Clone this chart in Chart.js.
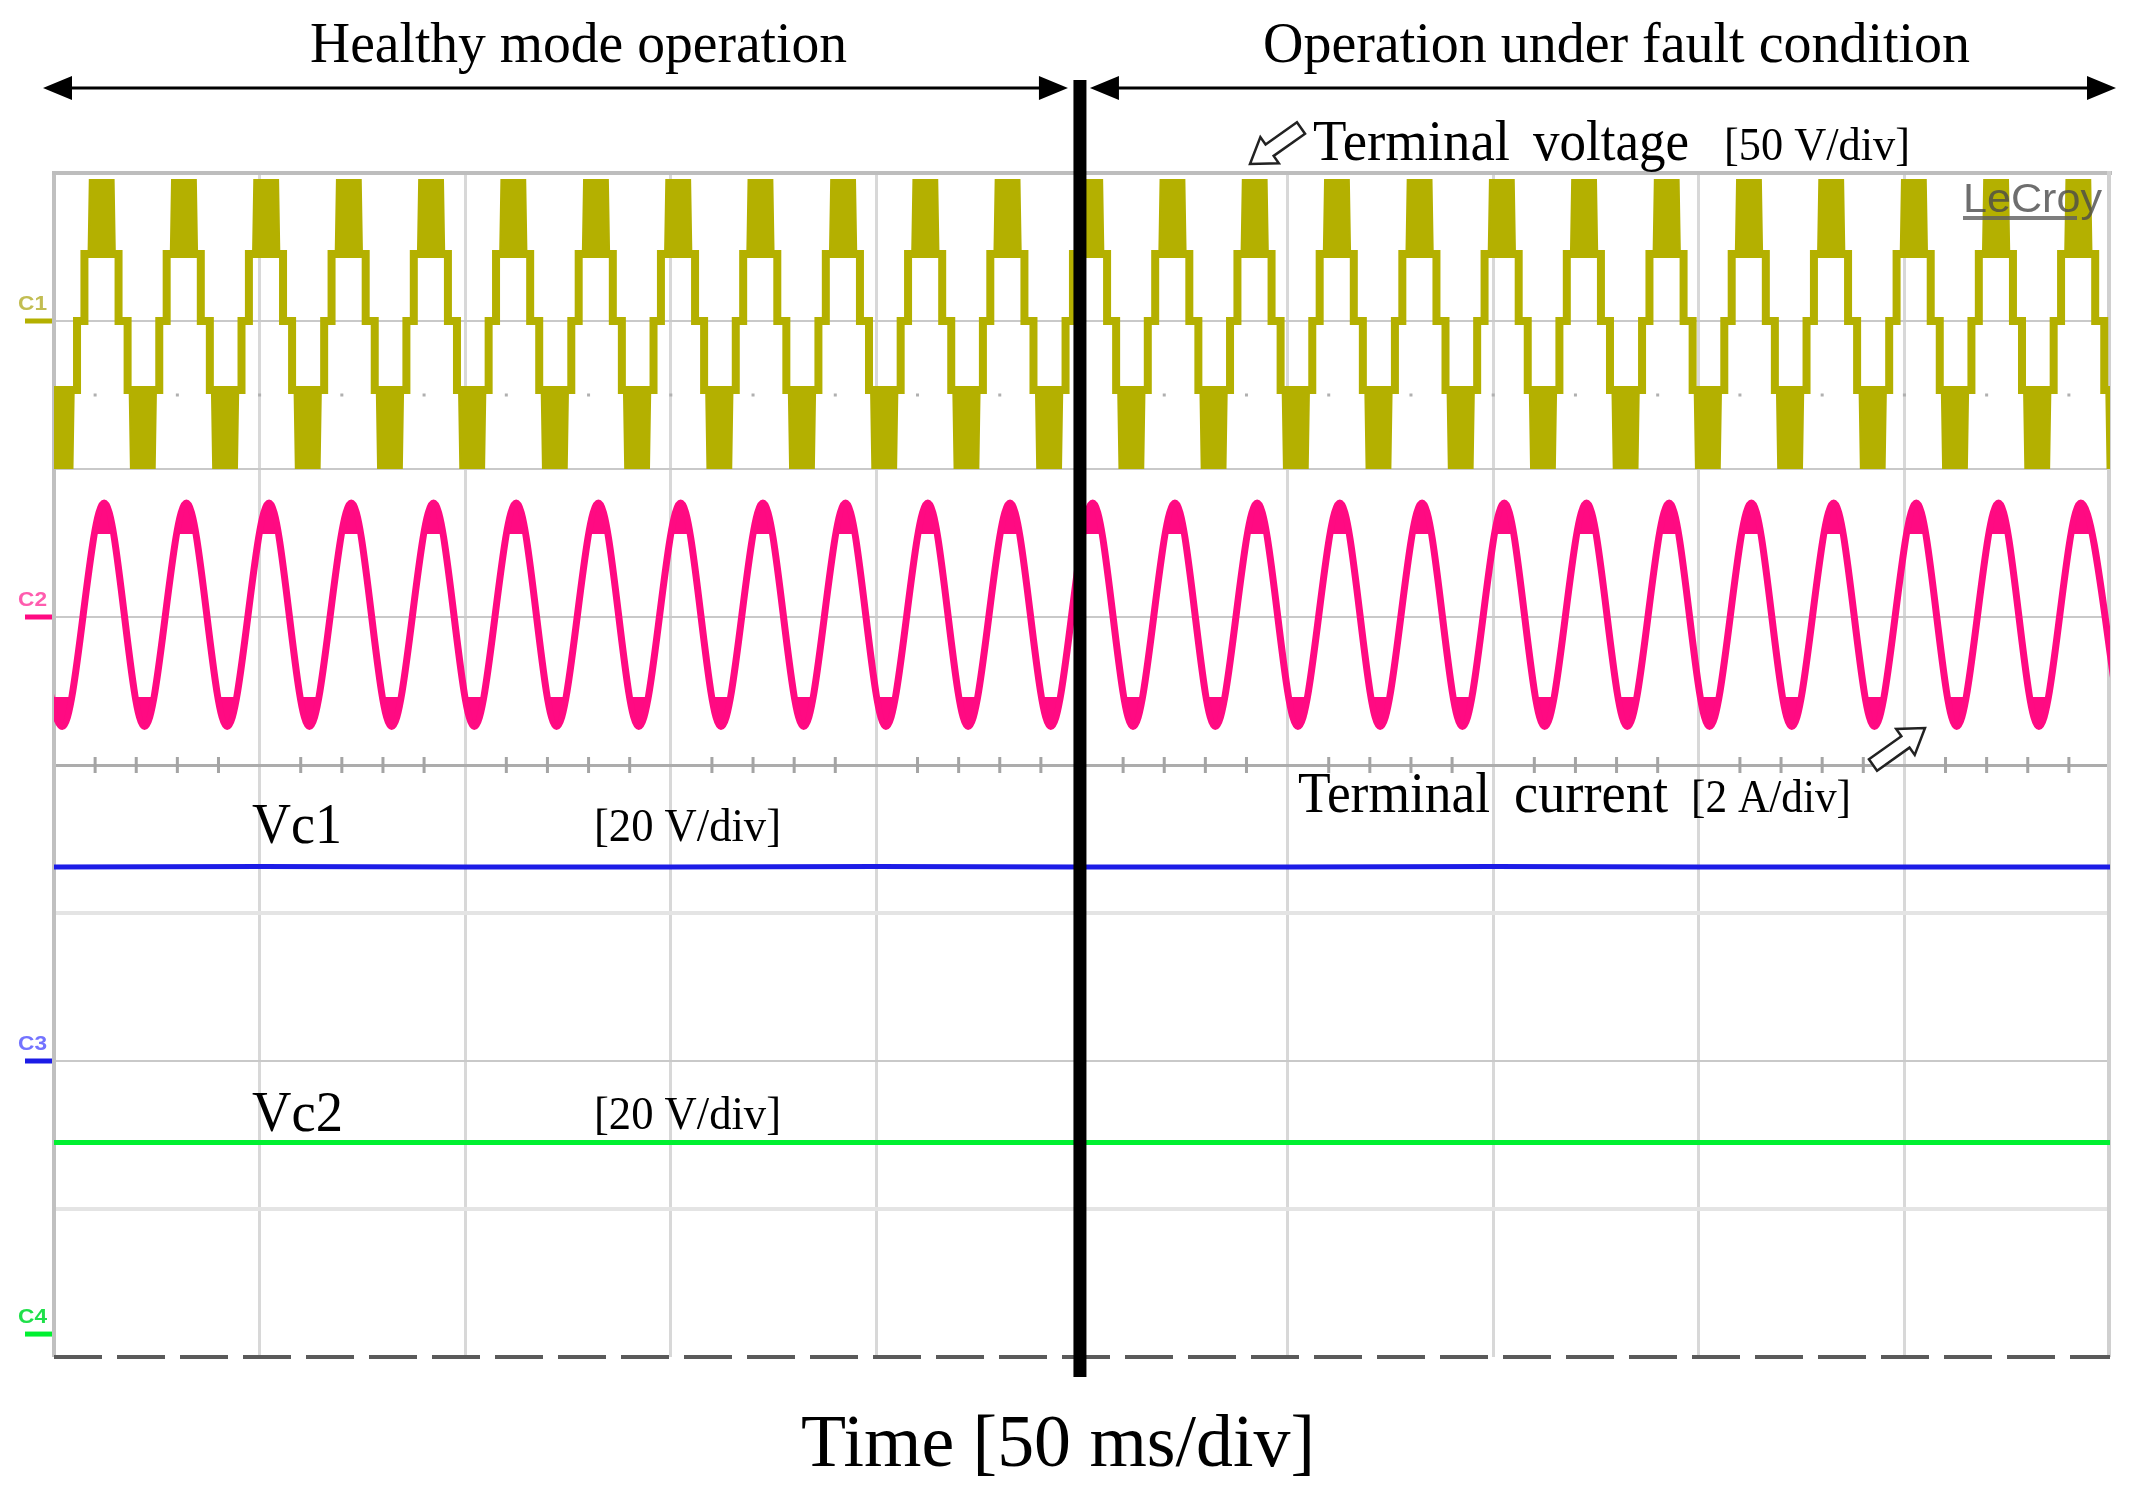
<!DOCTYPE html>
<html>
<head>
<meta charset="utf-8">
<script src="https://cdn.jsdelivr.net/npm/chart.js@4.4.1/dist/chart.umd.min.js"></script>
<style>
  html, body { margin: 0; padding: 0; background: #fff; }
  #wrap { width: 2134px; height: 1491px; }
</style>
</head>
<body>
<div id="wrap"><canvas id="scope" width="2134" height="1491"></canvas></div>
<script>
const timeRange = [0, 500];
const faultTime = 249.5;

// C1 terminal voltage (50 V/div): 5-level staircase with PWM bands
const c1PeakTimes = [11.6, 31.6, 51.6, 71.7, 91.7, 111.7, 131.8, 151.8, 171.8, 191.9, 211.9, 231.9,
  252.0, 272.0, 292.0, 312.0, 332.1, 352.1, 372.1, 392.2, 412.2, 432.2, 452.3, 472.3, 492.3];
const c1TroughTimes = [1.6, 21.6, 41.6, 61.7, 81.7, 101.7, 121.8, 141.8, 161.8, 181.9, 201.9, 221.9,
  242.0, 262.0, 282.0, 302.0, 322.1, 342.1, 362.1, 382.2, 402.2, 422.2, 442.3, 462.3, 482.3, 502.3];
const c1Levels = [-49.7, -23.3, 0, 22.6, 47.6];      // V: bottom, low, zero, high, top
const c1StepOffsets = [-6.0, -4.2, 4.1, 6.3];         // ms from each peak: rise, rise, fall, fall
const c1BandHalfWidths = [2.9, 3.2];                  // ms: outer edge, inner edge of PWM band

// C2 terminal current (2 A/div)
const c2PeakTimes = [-7.8, 12.2, 32.2, 52.3, 72.3, 92.3, 112.4, 132.4, 152.4, 172.4, 192.5, 212.5, 232.5,
  252.6, 272.6, 292.6, 312.7, 332.7, 352.7, 372.7, 392.8, 412.8, 432.8, 452.9, 472.9, 492.9];
const c2TroughTimes = [2.0, 22.0, 42.1, 62.1, 82.1, 102.2, 122.2, 142.2, 162.2, 182.3, 202.3, 222.3,
  242.4, 262.4, 282.4, 302.5, 322.5, 342.5, 362.5, 382.6, 402.6, 422.6, 442.7, 462.7, 482.7, 502.7];
const c2PeakValue = 1.54;     // A
const c2TroughValue = -1.48;  // A
// switching ripple that thickens each crest: offsets (ms) and trace values (A)
const c2RippleOffsets = [-2.4, -1.2, 0, 1.2, 2.4];
const c2PeakRipple = [1.12, 1.43, 1.54, 1.43, 1.12];
const c2TroughRipple = [-1.08, -1.38, -1.48, -1.38, -1.08];

// C3 / C4 capacitor voltages Vc1, Vc2 (20 V/div)
const dcTimes = [0, 50, 100, 150, 200, 250, 300, 350, 400, 450, 500];
const c3Values = [26.2, 26.3, 26.2, 26.2, 26.3, 26.2, 26.2, 26.3, 26.2, 26.2, 26.2];
const c4Values = [25.9, 25.9, 25.9, 25.9, 25.9, 25.9, 25.9, 25.9, 25.9, 25.9, 25.9];

// channel settings: units per division and screen position of the zero (div from centre)
const channels = [
  { id: 'c1', name: 'C1', perDiv: 50, zeroDiv: 3,      color: '#b4b000', label: '#c2bd52' },
  { id: 'c2', name: 'C2', perDiv: 2,  zeroDiv: 1,      color: '#ff0a82', label: '#ff5cae' },
  { id: 'c3', name: 'C3', perDiv: 20, zeroDiv: -2,     color: '#1c1ce6', label: '#7373ff' },
  { id: 'c4', name: 'C4', perDiv: 20, zeroDiv: -3.845, color: '#00f030', label: '#1fe04a' }
];

// ---- build series ----
const [lvBottom, lvLow, lvZero, lvHigh, lvTop] = c1Levels;

const c1Outline = [{ x: -10, y: lvLow }];
c1PeakTimes.forEach(tp => {
  const [r0, r1, f0, f1] = c1StepOffsets;
  c1Outline.push(
    { x: tp + r0, y: lvLow }, { x: tp + r0, y: lvZero },
    { x: tp + r1, y: lvZero }, { x: tp + r1, y: lvHigh },
    { x: tp + f0, y: lvHigh }, { x: tp + f0, y: lvZero },
    { x: tp + f1, y: lvZero }, { x: tp + f1, y: lvLow }
  );
});
c1Outline.push({ x: 510, y: lvLow });

function pwmBands(times, inner, outer) {
  const [hwOut, hwIn] = c1BandHalfWidths;
  const pts = [];
  times.forEach(t => {
    pts.push({ x: t - hwIn, y: inner }, { x: t - hwOut, y: outer },
             { x: t + hwOut, y: outer }, { x: t + hwIn, y: inner }, { x: t, y: null });
  });
  return pts;
}

function rippleBlobs(times, profile) {
  const pts = [];
  times.forEach(t => {
    c2RippleOffsets.forEach((dt, i) => pts.push({ x: t + dt, y: profile[i] }));
    pts.push({ x: t, y: null });
  });
  return pts;
}

const c2Curve = c2PeakTimes.map(t => ({ x: t, y: c2PeakValue }))
  .concat(c2TroughTimes.map(t => ({ x: t, y: c2TroughValue })))
  .sort((a, b) => a.x - b.x);

const c3Line = dcTimes.map((t, i) => ({ x: t, y: c3Values[i] }));
const c4Line = dcTimes.map((t, i) => ({ x: t, y: c4Values[i] }));

// ---- scales ----
const scales = {
  x: {
    type: 'linear', min: timeRange[0], max: timeRange[1],
    ticks: { display: false, stepSize: 50 },
    border: { display: false },
    grid: {
      drawTicks: false, lineWidth: 3,
      color: ctx => (ctx.tick.value === 0 || ctx.tick.value === 500) ? 'rgba(0,0,0,0)' : '#d8d8d8'
    },
    afterFit: s => { s.height = 0; }
  },
  yGrid: {
    type: 'linear', position: 'left', min: -4, max: 4,
    ticks: { display: false, stepSize: 1 },
    border: { display: false },
    grid: {
      drawTicks: false,
      color: ctx => {
        const v = ctx.tick.value;
        if (v === 4 || v === -4) return 'rgba(0,0,0,0)';
        if (v === 0) return '#acacac';
        if (v === -1 || v === -3) return '#e4e4e4';
        return '#c9c9c9';
      },
      lineWidth: ctx => {
        const v = ctx.tick.value;
        if (v === 0) return 3;
        if (v === -1 || v === -3) return 4;
        return 2;
      }
    },
    afterFit: s => { s.width = 0; }
  }
};
channels.forEach(ch => {
  scales[ch.id] = {
    type: 'linear', display: false,
    min: (-4 - ch.zeroDiv) * ch.perDiv,
    max: (4 - ch.zeroDiv) * ch.perDiv
  };
});

// ---- drawing helpers ----
function fitText(ctx, str, x0, x1, baseline, font, color) {
  ctx.save();
  ctx.font = font;
  const w = ctx.measureText(str).width;
  ctx.translate(x0, baseline);
  ctx.scale((x1 - x0) / w, 1);
  ctx.fillStyle = color;
  ctx.textAlign = 'left';
  ctx.textBaseline = 'alphabetic';
  ctx.fillText(str, 0, 0);
  ctx.restore();
}

function doubleArrow(ctx, x0, x1, y) {
  const hl = 29, hw = 12;
  ctx.save();
  ctx.fillStyle = '#000';
  ctx.strokeStyle = '#000';
  ctx.lineWidth = 3;
  ctx.beginPath();
  ctx.moveTo(x0 + hl - 2, y);
  ctx.lineTo(x1 - hl + 2, y);
  ctx.stroke();
  ctx.beginPath();
  ctx.moveTo(x0, y); ctx.lineTo(x0 + hl, y - hw); ctx.lineTo(x0 + hl, y + hw); ctx.closePath();
  ctx.moveTo(x1, y); ctx.lineTo(x1 - hl, y - hw); ctx.lineTo(x1 - hl, y + hw); ctx.closePath();
  ctx.fill();
  ctx.restore();
}

function hollowArrow(ctx, tx, ty, hx, hy) {
  const L = Math.hypot(hx - tx, hy - ty);
  const sw = 7, hw = 16, hl = 24;
  ctx.save();
  ctx.translate(tx, ty);
  ctx.rotate(Math.atan2(hy - ty, hx - tx));
  ctx.beginPath();
  ctx.moveTo(0, -sw); ctx.lineTo(L - hl, -sw); ctx.lineTo(L - hl, -hw);
  ctx.lineTo(L, 0);
  ctx.lineTo(L - hl, hw); ctx.lineTo(L - hl, sw); ctx.lineTo(0, sw);
  ctx.closePath();
  ctx.fillStyle = '#fff';
  ctx.fill();
  ctx.lineWidth = 2.5;
  ctx.strokeStyle = '#222';
  ctx.stroke();
  ctx.restore();
}

const SERIF = '"Liberation Serif", "Times New Roman", serif';
const SANS = '"Liberation Sans", Arial, sans-serif';

const scopeDecor = {
  id: 'scopeDecor',
  beforeDatasetsDraw(chart) {
    const { ctx, chartArea: a, scales: s } = chart;
    ctx.save();
    // dotted reference line
    const yDot = s.yGrid.getPixelForValue(2.5);
    ctx.fillStyle = '#b0b0b0';
    for (let t = 10; t < timeRange[1]; t += 10) {
      ctx.fillRect(s.x.getPixelForValue(t) - 1.5, yDot - 1.5, 3, 3);
    }
    // minor ticks on the centre line
    const yMid = s.yGrid.getPixelForValue(0);
    ctx.fillStyle = '#a4a4a4';
    for (let t = 10; t < timeRange[1]; t += 10) {
      if (t % 50 === 0) continue;
      ctx.fillRect(s.x.getPixelForValue(t) - 1.5, yMid - 8, 3, 16);
    }
    // frame
    ctx.fillStyle = '#c0c0c0';
    ctx.fillRect(a.left - 2, a.top - 2, 4, a.bottom - a.top + 2);
    ctx.fillStyle = '#bdbdbd';
    ctx.fillRect(a.left - 2, a.top - 2, a.right - a.left + 4, 4);
    ctx.fillStyle = '#d0d0d0';
    ctx.fillRect(a.right - 3, a.top - 2, 4, a.bottom - a.top + 2);
    ctx.strokeStyle = '#5a5a5a';
    ctx.lineWidth = 4;
    ctx.setLineDash([48, 15]);
    ctx.beginPath();
    ctx.moveTo(a.left, a.bottom);
    ctx.lineTo(a.right, a.bottom);
    ctx.stroke();
    ctx.restore();
  },
  afterDatasetsDraw(chart) {
    const { ctx, chartArea: a, scales: s } = chart;
    ctx.save();

    // fault instant
    const xf = s.x.getPixelForValue(faultTime);
    ctx.fillStyle = '#000';
    ctx.fillRect(xf - 6.5, 80, 13, 1297);

    // region arrows and titles
    doubleArrow(ctx, a.left - 11, xf - 12, 88);
    doubleArrow(ctx, xf + 10, a.right + 6, 88);
    fitText(ctx, 'Healthy mode operation', 310, 847, 62, '58px ' + SERIF, '#000');
    fitText(ctx, 'Operation under fault condition', 1263, 1970, 62, '58px ' + SERIF, '#000');

    // trace annotations
    hollowArrow(ctx, 1301, 128, 1250, 164);
    fitText(ctx, 'Terminal', 1313, 1510, 160, '58px ' + SERIF, '#000');
    fitText(ctx, 'voltage', 1533, 1689, 160, '58px ' + SERIF, '#000');
    fitText(ctx, '[50 V/div]', 1724, 1910, 160, '46px ' + SERIF, '#000');

    hollowArrow(ctx, 1873, 765, 1925, 728);
    fitText(ctx, 'Terminal', 1298, 1490, 812, '56px ' + SERIF, '#000');
    fitText(ctx, 'current', 1514, 1668, 812, '56px ' + SERIF, '#000');
    fitText(ctx, '[2 A/div]', 1691, 1851, 812, '46px ' + SERIF, '#000');

    fitText(ctx, 'Vc1', 252, 342, 843, '58px ' + SERIF, '#000');
    fitText(ctx, '[20 V/div]', 594, 781, 841, '46px ' + SERIF, '#000');
    fitText(ctx, 'Vc2', 252, 343, 1131, '58px ' + SERIF, '#000');
    fitText(ctx, '[20 V/div]', 594, 781, 1129, '46px ' + SERIF, '#000');

    fitText(ctx, 'Time [50 ms/div]', 801, 1315, 1466, '75px ' + SERIF, '#000');

    // scope brand
    ctx.globalAlpha = 0.8;
    fitText(ctx, 'LeCroy', 1963, 2102, 212, '40px ' + SANS, '#4a4a4a');
    ctx.fillStyle = '#5e5e5e';
    ctx.fillRect(1963, 216, 114, 4);
    ctx.globalAlpha = 1;

    // channel ground markers and names
    channels.forEach(ch => {
      const y0 = s[ch.id].getPixelForValue(0);
      ctx.fillStyle = ch.color;
      ctx.fillRect(25, y0 - 2.5, 27, 5);
      fitText(ctx, ch.name, 18, 47, y0 - 11, 'bold 21px ' + SANS, ch.label);
    });
    ctx.restore();
  }
};

new Chart(document.getElementById('scope'), {
  type: 'line',
  data: {
    datasets: [
      {
        label: 'C1 PWM band (+)', yAxisID: 'c1', data: pwmBands(c1PeakTimes, lvHigh, lvTop),
        borderColor: channels[0].color, backgroundColor: channels[0].color,
        borderWidth: 2, fill: { value: lvHigh }, pointRadius: 0, spanGaps: false, order: 2
      },
      {
        label: 'C1 PWM band (-)', yAxisID: 'c1', data: pwmBands(c1TroughTimes, lvLow, lvBottom),
        borderColor: channels[0].color, backgroundColor: channels[0].color,
        borderWidth: 2, fill: { value: lvLow }, pointRadius: 0, spanGaps: false, order: 2
      },
      {
        label: 'Terminal voltage', yAxisID: 'c1', data: c1Outline,
        borderColor: channels[0].color, borderWidth: 8, borderJoinStyle: 'miter',
        pointRadius: 0, fill: false, order: 1
      },
      {
        label: 'C2 ripple (+)', yAxisID: 'c2', data: rippleBlobs(c2PeakTimes, c2PeakRipple),
        borderColor: channels[1].color, backgroundColor: channels[1].color, borderWidth: 1,
        fill: { value: c2PeakRipple[0] }, pointRadius: 0, spanGaps: false, order: 2
      },
      {
        label: 'C2 ripple (-)', yAxisID: 'c2', data: rippleBlobs(c2TroughTimes, c2TroughRipple),
        borderColor: channels[1].color, backgroundColor: channels[1].color, borderWidth: 1,
        fill: { value: c2TroughRipple[0] }, pointRadius: 0, spanGaps: false, order: 2
      },
      {
        label: 'Terminal current', yAxisID: 'c2', data: c2Curve,
        borderColor: channels[1].color, borderWidth: 7, cubicInterpolationMode: 'monotone',
        pointRadius: 0, fill: false, order: 1
      },
      {
        label: 'Vc1', yAxisID: 'c3', data: c3Line,
        borderColor: channels[2].color, borderWidth: 5, pointRadius: 0, fill: false, order: 1
      },
      {
        label: 'Vc2', yAxisID: 'c4', data: c4Line,
        borderColor: channels[3].color, borderWidth: 5, pointRadius: 0, fill: false, order: 1
      }
    ]
  },
  options: {
    responsive: false,
    animation: false,
    devicePixelRatio: 1,
    layout: { padding: { left: 54, top: 173, right: 24, bottom: 134 } },
    scales: scales,
    plugins: {
      legend: { display: false },
      tooltip: { enabled: false }
    },
    events: []
  },
  plugins: [scopeDecor]
});
</script>
</body>
</html>
